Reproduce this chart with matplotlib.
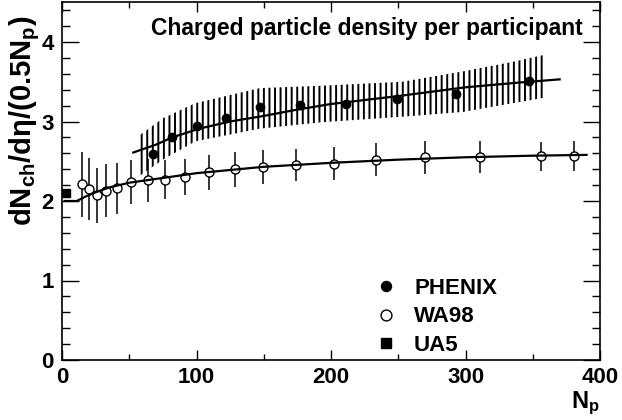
import matplotlib
matplotlib.use("Agg")
import matplotlib.pyplot as plt
from matplotlib.ticker import MultipleLocator

plt.rcParams['font.family'] = ['Liberation Sans', 'DejaVu Sans']
plt.rcParams['font.weight'] = 'bold'
plt.rcParams['mathtext.fontset'] = 'custom'
plt.rcParams['mathtext.rm'] = 'Liberation Sans:bold'
plt.rcParams['mathtext.it'] = 'Liberation Sans:bold'
plt.rcParams['mathtext.bf'] = 'Liberation Sans:bold'
plt.rcParams['hatch.linewidth'] = 1.4

# PHENIX points
phenix_np = [67.3, 81.9, 100, 122, 147, 176.6, 210.8, 248.8, 292.9, 347.3]
phenix_y = [2.59, 2.80, 2.94, 3.05, 3.18, 3.21, 3.22, 3.28, 3.35, 3.51]

# PHENIX systematic band (hatched)
band_np = [58, 75, 99, 147, 193, 253, 298, 335, 359]
band_hi = [2.83, 3.04, 3.23, 3.42, 3.45, 3.50, 3.63, 3.75, 3.84]
band_lo = [2.32, 2.52, 2.75, 2.91, 2.99, 3.06, 3.12, 3.23, 3.30]

# PHENIX fit curve
phenix_fit_np = [53, 70, 82, 102, 125, 150, 175, 200, 250, 300, 340, 370]
phenix_fit_y = [2.61, 2.71, 2.80, 2.91, 3.00, 3.07, 3.15, 3.22, 3.32, 3.43, 3.49, 3.53]

# WA98 points
wa98_np = [14.6, 20.3, 26.2, 32.7, 41, 51.2, 63.6, 76.4, 91.5, 109.3, 128.4,
           149.4, 174.2, 202.6, 233.5, 270.1, 311, 356, 380.7]
wa98_y = [2.21, 2.15, 2.07, 2.13, 2.16, 2.24, 2.26, 2.27, 2.30, 2.36, 2.40,
          2.43, 2.45, 2.47, 2.52, 2.55, 2.55, 2.56, 2.57]
wa98_err = [0.41, 0.39, 0.35, 0.33, 0.32, 0.28, 0.27, 0.25, 0.23, 0.22, 0.22,
            0.21, 0.20, 0.21, 0.21, 0.21, 0.20, 0.18, 0.19]

# WA98 fit curve
wa98_fit_np = [2, 11, 18, 25, 35, 50, 75, 100, 150, 200, 250, 300, 350, 390]
wa98_fit_y = [2.00, 2.00, 2.06, 2.11, 2.17, 2.23, 2.29, 2.35, 2.43, 2.48, 2.52, 2.55, 2.57, 2.58]

# UA5
ua5_np = [3]
ua5_y = [2.10]

figure = plt.figure(figsize=(6.22, 4.2), dpi=100)
axis = figure.add_axes([62 / 622, 60 / 420, 538 / 622, 357.75 / 420])

axis.fill_between(band_np, band_lo, band_hi, facecolor='none', edgecolor='black',
                  hatch='|||', linewidth=0, zorder=1)
axis.plot(phenix_fit_np, phenix_fit_y, color='black', lw=1.6, zorder=3)

axis.errorbar(wa98_np, wa98_y, yerr=wa98_err, fmt='none', ecolor='black',
              elinewidth=1.1, capsize=0, zorder=2)
axis.plot(phenix_np, phenix_y, 'o', color='black', ms=6, zorder=4, label='PHENIX')
axis.plot(wa98_np, wa98_y, 'o', mfc='white', mec='black', mew=1.0, ms=6.5,
          zorder=4, label='WA98')
axis.plot(ua5_np, ua5_y, 's', color='black', ms=5.5, zorder=4, clip_on=False,
          label='UA5')
# WA98 curve runs through the open circles
axis.plot(wa98_fit_np, wa98_fit_y, color='black', lw=1.6, zorder=5)

axis.set_xlim(0, 400)
axis.set_ylim(0, 4.5)
axis.xaxis.set_major_locator(MultipleLocator(100))
axis.xaxis.set_minor_locator(MultipleLocator(50))
axis.yaxis.set_major_locator(MultipleLocator(1))
axis.yaxis.set_minor_locator(MultipleLocator(0.2))
axis.tick_params(which='both', direction='in', top=True, right=True,
                 labelsize=16, width=1.0)
axis.tick_params(axis='x', which='major', length=7, pad=5)
axis.tick_params(axis='x', which='minor', length=4)
axis.tick_params(axis='y', which='major', length=12, pad=6)
axis.tick_params(axis='y', which='minor', length=6)
for s in axis.spines.values():
    s.set_linewidth(1.2)

axis.legend(loc='upper left', bbox_to_anchor=(0.582, 0.23), frameon=False,
            fontsize=16, handlelength=1.0, handletextpad=0.75, borderpad=0,
            borderaxespad=0, labelspacing=0.35, markerscale=1.2)

figure.text(583 / 622, 1 - 35 / 420, 'Charged particle density per participant',
            ha='right', va='baseline', fontsize=16.5, fontweight='bold')
figure.text(25 / 622, 1 - 121 / 420, r'dN$_{ch}$/dη/(0.5N$_p$)', rotation=90,
            ha='center', va='center', fontsize=21, fontweight='bold')
figure.text(600 / 622, 1 - 390 / 420, r'N$_p$', ha='right', va='top',
            fontsize=17, fontweight='bold')

figure.savefig('out.png', dpi=100)
